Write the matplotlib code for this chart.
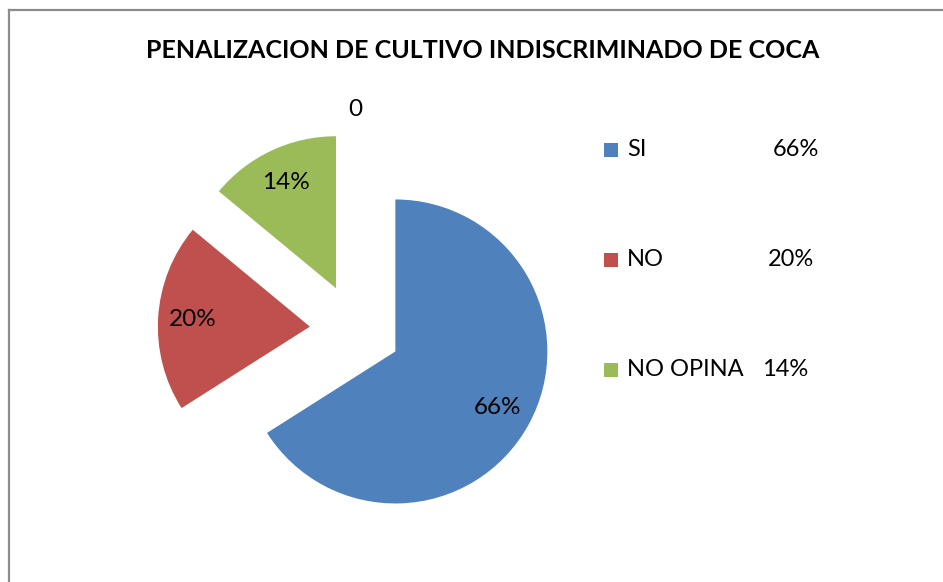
import matplotlib
matplotlib.use("Agg")
import matplotlib.pyplot as plt
from matplotlib.lines import Line2D
from matplotlib.patches import Rectangle

# ---- data ----
title = "PENALIZACION DE CULTIVO INDISCRIMINADO DE COCA"
categories = ["SI", "NO", "NO OPINA", ""]
values = [66, 20, 14, 0]
colors = ["#4F81BD", "#C0504D", "#9BBB59", "#8064A2"]

W, H = 943, 582
fig = plt.figure(figsize=(W / 100, H / 100), dpi=100)
ax = fig.add_axes([0, 0, 1, 1])
ax.set_xlim(0, W)
ax.set_ylim(0, H)
ax.axis("off")

FONT = "Lato"

cx, cy = 355.4, H - 329.5
radius = 152
expl = 0.30 * radius

labels = [f"{v}" if v == 0 else "" for v in values]
wedges, texts, autotexts = ax.pie(
    values, colors=colors, startangle=90, counterclock=False,
    center=(cx, cy), radius=radius, explode=[expl] * len(values),
    labels=labels, labeldistance=1.15,
    autopct=lambda p: f"{p:.0f}%" if p > 0.5 else "",
    pctdistance=0.77, frame=False,
    wedgeprops=dict(linewidth=0),
    textprops=dict(fontsize=17.5, family=FONT, color="black"),
)
for t in texts + autotexts:
    t.set_ha("center")
    t.set_va("center")
ax.set_xlim(0, W)
ax.set_ylim(0, H)
ax.set_aspect("auto")

# title
fig.text(483 / W, 1 - 51 / H, title, ha="center", va="center",
         fontsize=18, fontweight="bold", family=FONT)

# legend (manual)
pct_x = [773, 768, 762]
for i, (name, val, col) in enumerate(zip(categories[:3], values[:3], colors[:3])):
    y = 150 + i * 110
    fig.patches.append(Rectangle((604 / W, 1 - (y + 7) / H), 14 / W, 14 / H,
                                 transform=fig.transFigure, facecolor=col,
                                 edgecolor="none"))
    fig.text(627 / W, 1 - y / H, name, ha="left", va="center",
             fontsize=17, family=FONT)
    fig.text(pct_x[i] / W, 1 - y / H, f"{val}%", ha="left", va="center",
             fontsize=17, family=FONT)

# chart border (left and top visible)
fig.lines.append(Line2D([9 / W, 9 / W], [0, 1 - 10 / H], transform=fig.transFigure,
                        color="#8C8C8C", linewidth=1.6))
fig.lines.append(Line2D([9 / W, 1], [1 - 10 / H, 1 - 10 / H], transform=fig.transFigure,
                        color="#8C8C8C", linewidth=1.6))

fig.savefig("out.png", dpi=100, facecolor="white")
